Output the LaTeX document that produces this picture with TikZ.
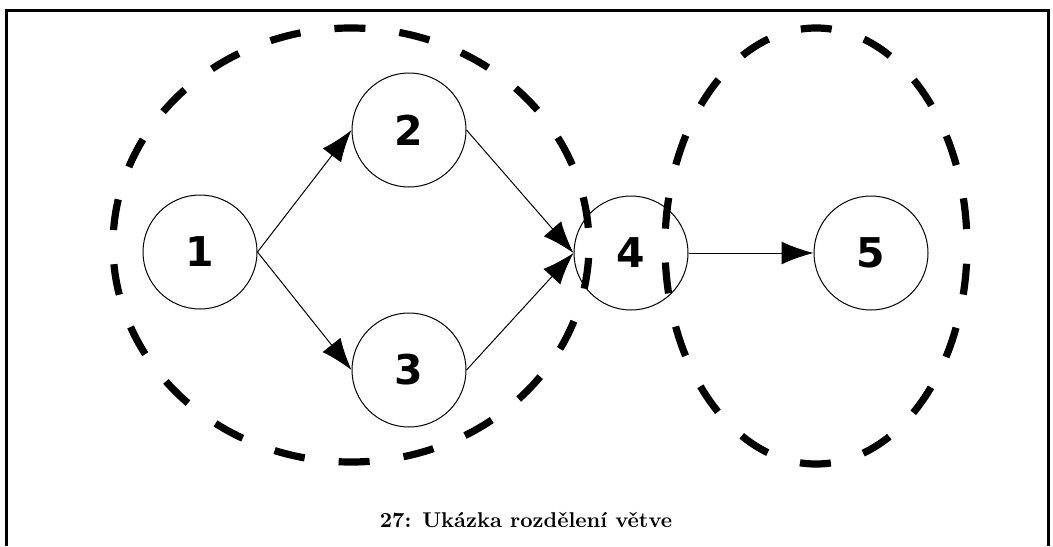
\documentclass[tikz,border=0pt]{standalone}
\usepackage{fontspec}
\newfontfamily\numfont{DejaVu Sans}
\usetikzlibrary{arrows.meta}

\tikzset{
  vertex/.style={circle, draw, line width=0.5pt, minimum size=57pt, inner sep=0pt,
                 font=\numfont\bfseries\fontsize{20.5pt}{24pt}\selectfont},
  edge/.style={line width=0.5pt, -{Latex[length=16pt, width=11.5pt]}},
  group/.style={line width=3.6pt, dash pattern=on 15.5pt off 17.1pt, dash phase=24pt},
  frame/.style={line width=1.5pt}
}

\begin{document}
\begin{tikzpicture}[x=0.5pt, y=-0.5pt]
  \useasboundingbox (0,0) rectangle (1053,546);

  % open frame around the figure
  \draw[frame] (6,546) -- (6,10) -- (1048,10) -- (1048,546);

  % vertices
  \node[vertex] (n1) at (200,252) {1};
  \node[vertex] (n2) at (409,130) {2};
  \node[vertex] (n3) at (409,370) {3};
  \node[vertex] (n4) at (631,253) {4};
  \node[vertex] (n5) at (871,253) {5};

  % directed edges
  \draw[edge] (n1.east) -- (n2.west);
  \draw[edge] (n1.east) -- (n3.west);
  \draw[edge] (n2.east) -- (n4.west);
  \draw[edge] (n3.east) -- (n4.west);
  \draw[edge] (n4.east) -- (n5.west);

  % branch groups
  \draw[group] (351,245) ellipse [x radius=119pt, y radius=108.5pt];
  \draw[group, dash pattern=on 15.5pt off 16.95pt] (816,246) ellipse [x radius=75.5pt, y radius=109pt];

  % caption
  \node[font=\bfseries\fontsize{10.7pt}{12.8pt}\selectfont, anchor=base] (cap) at (526,527)
    {27: Ukázka rozdělení větve};
\end{tikzpicture}
\end{document}
